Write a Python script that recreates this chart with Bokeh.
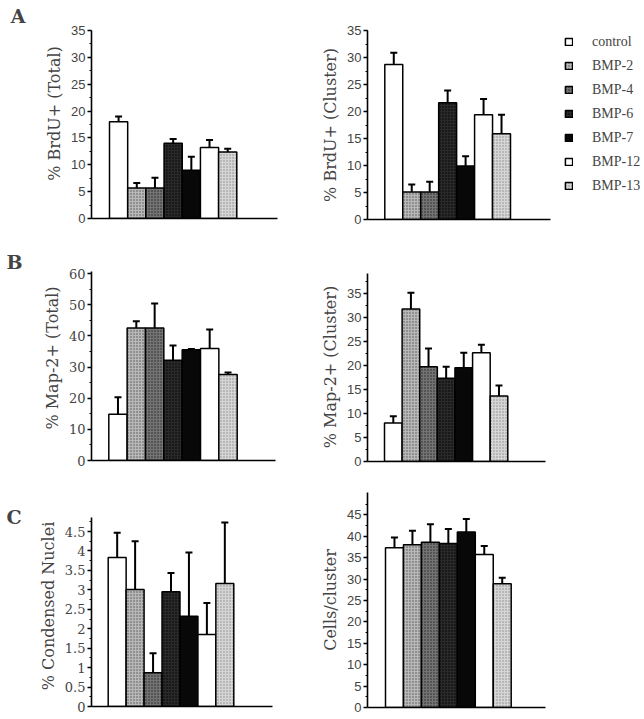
from bokeh.plotting import figure
from bokeh.models import (ColumnDataSource, Whisker, TeeHead, Legend, LegendItem, LinearAxis,
                          SingleIntervalTicker, FixedTicker, CustomJSTickFormatter, Range1d)
from bokeh.layouts import row, column
from bokeh.embed import file_html
from bokeh.resources import INLINE

# ---------------- data ----------------
groups = ["control", "BMP-2", "BMP-4", "BMP-6", "BMP-7", "BMP-12", "BMP-13"]

brdu_total = [18.0, 5.7, 5.7, 14.0, 9.0, 13.2, 12.4]
brdu_total_err = [1.0, 0.9, 1.9, 0.8, 2.5, 1.4, 0.6]

brdu_cluster = [28.7, 5.1, 5.1, 21.6, 9.9, 19.4, 15.9]
brdu_cluster_err = [2.2, 1.4, 1.9, 2.3, 1.8, 2.9, 3.5]

map2_total = [14.8, 42.5, 42.5, 32.2, 35.5, 35.9, 27.6]
map2_total_err = [5.5, 2.2, 7.9, 4.7, 0.3, 6.1, 0.6]

map2_cluster = [8.0, 31.7, 19.7, 17.3, 19.5, 22.6, 13.6]
map2_cluster_err = [1.4, 3.4, 3.8, 2.4, 3.1, 1.7, 2.2]

condensed = [3.83, 3.01, 0.87, 2.95, 2.32, 1.85, 3.16]
condensed_err = [0.64, 1.24, 0.50, 0.48, 1.64, 0.81, 1.57]

cells = [37.3, 38.0, 38.6, 38.3, 41.0, 35.7, 28.9]
cells_err = [2.4, 3.25, 4.2, 3.4, 3.0, 2.0, 1.4]

cells_ticks = [0, 5, 10, 15, 20, 25, 30, 35, 40, 45]

# ---------------- styles ----------------
FILLS = ["white", "#b8b8b8", "#747474", "#2a2a2a", "#080808", "white", "#d6d6d6"]
HATCH = [" ", "dot", "dot", "dot", " ", " ", "dot"]
HATCH_COLORS = ["black", "#555555", "#222222", "#000000", "black", "black", "#888888"]
SERIF = "DejaVu Serif"
SANS = "Liberation Sans"


def panel(vals, errs, ylabel, interval, geom, tick_font, decimal=False,
          letter=None, legend=False, fixed_ticks=None):
    fl, ft, fw, fh = geom["frame"]
    bl, br, bt, bb = geom["borders"]
    b0, b1, axis_end = geom["bars"]
    zero_px, ref_px, ref_val, y_top = geom["yscale"]

    ux = (b1 - b0) / len(groups)
    x_start = -0.5 - (b0 - fl) / ux
    x_end = x_start + fw / ux
    x_bound = 6.5 + (axis_end - b1) / ux
    uy = (zero_px - ref_px) / ref_val
    y_end = fh / uy

    p = figure(frame_width=fw, frame_height=fh, output_backend="svg", toolbar_location=None,
               x_range=Range1d(x_start, x_end), y_range=Range1d(0, y_end),
               min_border_left=bl, min_border_right=br, min_border_top=bt, min_border_bottom=bb)
    p.outline_line_color = None
    p.grid.visible = False

    xs = list(range(len(groups)))
    src = ColumnDataSource(dict(
        x=xs, top=vals, upper=[v + e for v, e in zip(vals, errs)], name=groups,
        fill=FILLS, hatch=HATCH, hcol=HATCH_COLORS))
    r = p.vbar(x="x", top="top", width=1.0, source=src, fill_color="fill",
               line_color="black", line_width=1.5,
               hatch_pattern="hatch", hatch_color="hcol", hatch_scale=3, hatch_weight=1)
    p.add_layout(Whisker(source=src, base="x", upper="upper", lower="top",
                         upper_head=TeeHead(size=7, line_width=2, line_color="black"),
                         lower_head=None, line_width=2, line_color="black"))

    ya = p.yaxis[0]
    ya.bounds = (0, y_top)
    if fixed_ticks is not None:
        minors = [t + interval / 2 for t in fixed_ticks if t + interval / 2 <= y_top]
        ya.ticker = FixedTicker(ticks=fixed_ticks, minor_ticks=minors)
    else:
        ya.ticker = SingleIntervalTicker(interval=interval, num_minor_ticks=2)
    if decimal:
        ya.formatter = CustomJSTickFormatter(code="return String(Number(tick.toFixed(1)));")
    ya.axis_label = ylabel
    ya.axis_label_text_font = SERIF
    ya.axis_label_text_font_size = "16px"
    ya.axis_label_text_font_style = "normal"
    ya.axis_label_standoff = 4
    ya.major_label_text_font = tick_font
    ya.major_label_text_font_size = "13px"
    ya.major_label_standoff = 2
    ya.major_tick_out = 4
    ya.major_tick_in = 0
    ya.minor_tick_out = 2
    ya.minor_tick_in = 0
    ya.axis_line_width = 1.6
    ya.major_tick_line_width = 1.4
    ya.minor_tick_line_width = 1.2

    xa = p.xaxis[0]
    xa.bounds = (x_start, x_bound)
    xa.ticker = FixedTicker(ticks=[])
    xa.major_label_text_font_size = "0px"
    xa.major_tick_out = 0
    xa.major_tick_in = 0
    xa.minor_tick_out = 0
    xa.minor_tick_in = 0
    xa.major_label_standoff = 0
    xa.axis_line_width = 1.6

    if letter is not None:
        text, center_px, standoff = letter
        la = LinearAxis(ticker=FixedTicker(ticks=[(zero_px - center_px) / uy]),
                        formatter=CustomJSTickFormatter(code="return '%s';" % text))
        la.axis_line_color = None
        la.major_tick_line_color = None
        la.minor_tick_line_color = None
        la.major_tick_out = 0
        la.minor_tick_out = 0
        la.major_label_standoff = standoff
        la.major_label_text_font = SERIF
        la.major_label_text_font_style = "bold"
        la.major_label_text_font_size = "19px"
        p.add_layout(la, "left")

    if legend:
        items = [LegendItem(label=g, renderers=[r], index=i) for i, g in enumerate(groups)]
        lg = Legend(items=items, location=(564 - fl, (ft + fh) - 194), orientation="vertical",
                    glyph_width=9, glyph_height=9, label_height=17, spacing=7,
                    label_standoff=19, padding=0, margin=0,
                    label_text_font="Liberation Serif", label_text_font_size="14px",
                    border_line_color=None, background_fill_alpha=0)
        p.add_layout(lg)
    return p


# left column: frame left 91, width 200
a1 = panel(brdu_total, brdu_total_err, "% BrdU+ (Total)", 5,
           dict(frame=(91, 8, 200, 210), borders=(91, 9, 8, 18),
                bars=(109, 236.3, 277), yscale=(218, 30, 35, 35)),
           SANS, letter=("A", 15, 17))
b1 = panel(map2_total, map2_total_err, "% Map-2+ (Total)", 10,
           dict(frame=(91, 255, 200, 205), borders=(91, 9, 19, 10),
                bars=(108.3, 236.7, 275), yscale=(460, 273, 60, 60.6)),
           SERIF, letter=("B", 261, 17))
c1 = panel(condensed, condensed_err, "% Condensed Nuclei", 0.5,
           dict(frame=(91, 505, 200, 201), borders=(91, 9, 35, 10),
                bars=(107.7, 233.3, 271.7), yscale=(706, 531, 4.5, 4.87)),
           SERIF, decimal=True, letter=("C", 516.5, 14))

# right column: frame left 367, width 275
a2 = panel(brdu_cluster, brdu_cluster_err, "% BrdU+ (Cluster)", 5,
           dict(frame=(367, 30, 275, 189), borders=(67, 0, 30, 17),
                bars=(384.3, 510, 550), yscale=(219, 30, 35, 35)),
           SANS, legend=True)
b2 = panel(map2_cluster, map2_cluster_err, "% Map-2+ (Cluster)", 5,
           dict(frame=(367, 272, 275, 189), borders=(67, 0, 36, 9),
                bars=(384, 507.3, 545), yscale=(461, 292.7, 35, 39.0)),
           SANS)
c2 = panel(cells, cells_err, "Cells/cluster", 5,
           dict(frame=(367, 492, 275, 215), borders=(67, 0, 22, 9),
                bars=(385, 510.7, 545), yscale=(707, 514.3, 45, 50.3)),
           SANS, fixed_ticks=cells_ticks)

layout = row(column(a1, b1, c1), column(a2, b2, c2))
open("out.html", "w").write(file_html(layout, INLINE))
